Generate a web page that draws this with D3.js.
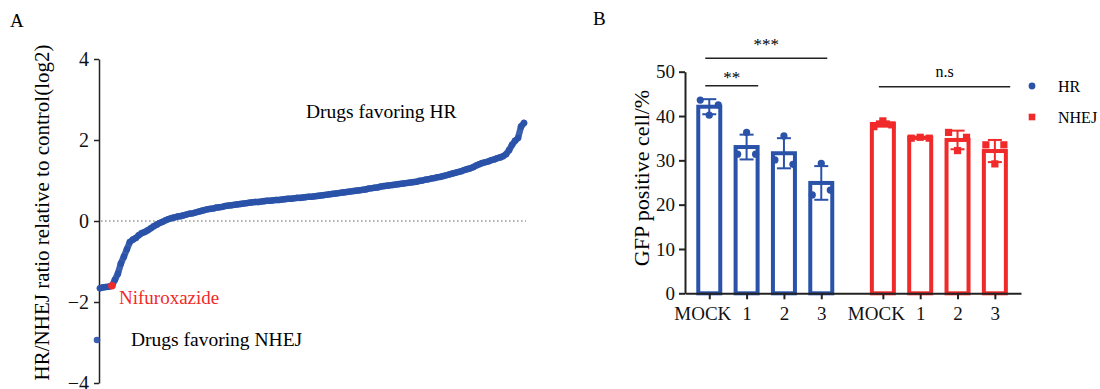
<!DOCTYPE html>
<html>
<head>
<meta charset="utf-8">
<script src="https://cdn.jsdelivr.net/npm/d3@7"></script>
<style>
  body { margin: 0; background: #fff; }
  svg { font-family: "Liberation Serif", "Times New Roman", serif; }
  .axis path, .axis line { stroke: #222; }
  .axis text { font-family: "Liberation Serif", serif; fill: #111; }
</style>
</head>
<body>
<svg id="chart" width="1100" height="389"></svg>
<script>
// ---- Panel A: sorted HR/NHEJ ratios (log2) ----
const ratioValues = [
  -2.94,
  -1.66, -1.64, -1.63, -1.62, -1.60, -1.45, -1.30, -1.05, -0.88, -0.70,
  -0.52, -0.46, -0.42, -0.35, -0.30, -0.27, -0.23, -0.18, -0.13, -0.09,
  -0.05, -0.02, 0.02, 0.05, 0.07, 0.09, 0.11, 0.12, 0.14, 0.16,
  0.18, 0.19, 0.21, 0.23, 0.25, 0.27, 0.29, 0.30, 0.31, 0.33,
  0.34, 0.35, 0.37, 0.38, 0.39, 0.40, 0.41, 0.42, 0.43, 0.44,
  0.45, 0.46, 0.47, 0.47, 0.48, 0.49, 0.50, 0.50, 0.51, 0.52,
  0.52, 0.53, 0.54, 0.55, 0.55, 0.56, 0.57, 0.57, 0.58, 0.59,
  0.60, 0.60, 0.61, 0.62, 0.63, 0.64, 0.65, 0.66, 0.67, 0.68,
  0.69, 0.70, 0.71, 0.72, 0.73, 0.74, 0.75, 0.76, 0.77, 0.78,
  0.80, 0.81, 0.82, 0.83, 0.85, 0.86, 0.87, 0.88, 0.89, 0.90,
  0.91, 0.92, 0.93, 0.94, 0.95, 0.96, 0.97, 0.99, 1.00, 1.02,
  1.03, 1.05, 1.06, 1.08, 1.09, 1.11, 1.13, 1.15, 1.17, 1.19,
  1.21, 1.23, 1.26, 1.28, 1.30, 1.33, 1.37, 1.40, 1.43, 1.45,
  1.47, 1.50, 1.52, 1.55, 1.57, 1.60, 1.65, 1.75, 1.88, 1.98,
  2.05, 2.33, 2.42
];
const highlightIndex = 5;          // Nifuroxazide
const ratioTicks = [-4, -2, 0, 2, 4];

// ---- Panel B: GFP positive cells (%) ----
const groupLabels = ["MOCK", "1", "2", "3", "MOCK", "1", "2", "3"];
const groupPositions = [0, 1, 2, 3, 4.65, 5.65, 6.65, 7.65];
const groupSeries = ["HR", "HR", "HR", "HR", "NHEJ", "NHEJ", "NHEJ", "NHEJ"];
const barMeans = [42.1, 33.0, 31.6, 24.9, 38.2, 35.1, 34.6, 32.1];
const barSD = [1.7, 2.8, 3.4, 3.8, 0.6, 0.2, 2.1, 2.5];
const replicates = [
  [43.6, 40.2, 42.5],
  [31.4, 36.3, 31.4],
  [30.1, 35.5, 29.1],
  [22.2, 29.3, 23.3],
  [37.6, 38.9, 38.0],
  [35.0, 35.2, 35.0],
  [36.3, 32.2, 35.2],
  [33.5, 29.2, 33.5]
];
const gfpTicks = [0, 10, 20, 30, 40, 50];
const legendItems = ["HR", "NHEJ"];

const blue = "#2a52a8";
const red = "#f02a2a";
const colorOf = s => s === "HR" ? blue : red;

const svg = d3.select("#chart");

// ================= Panel A =================
const gA = svg.append("g");

const xA = d3.scaleLinear().domain([0, ratioValues.length - 1]).range([97, 524]);
const yA = d3.scaleLinear().domain([-4, 4]).range([383, 59]);

gA.append("g")
  .attr("class", "axis")
  .attr("transform", "translate(99,0)")
  .call(d3.axisLeft(yA).tickValues(ratioTicks).tickSize(5).tickSizeOuter(0).tickFormat(d3.format("d")))
  .call(g => g.selectAll("path, line").attr("stroke-width", 1.5))
  .call(g => g.selectAll("text").attr("font-size", 20).attr("dx", -2));

// dotted zero line
gA.append("line")
  .attr("x1", 101).attr("x2", 526)
  .attr("y1", yA(0)).attr("y2", yA(0))
  .attr("stroke", "#9a9a9a")
  .attr("stroke-width", 1.6)
  .attr("stroke-dasharray", "1.6,2.4");

// thick trace joining the sorted drugs (outlier excluded) so steep parts stay solid
const trace = d3.line()
  .x(d => xA(d.i))
  .y(d => yA(d.v));
gA.append("path")
  .datum(ratioValues.map((v, i) => ({ v, i })).filter(d => d.i > 0))
  .attr("d", trace)
  .attr("fill", "none")
  .attr("stroke", blue)
  .attr("stroke-width", 6.4)
  .attr("stroke-linecap", "round")
  .attr("stroke-linejoin", "round")
  .attr("opacity", 0.92);

gA.selectAll(".drug")
  .data(ratioValues)
  .enter().append("circle")
  .attr("class", "drug")
  .attr("cx", (d, i) => xA(i))
  .attr("cy", d => yA(d))
  .attr("r", 3.3)
  .attr("fill", (d, i) => i === highlightIndex ? red : blue)
  .attr("opacity", 0.92);

// redraw highlighted point on top
gA.append("circle")
  .attr("cx", xA(highlightIndex))
  .attr("cy", yA(ratioValues[highlightIndex]))
  .attr("r", 3.8)
  .attr("fill", red);

gA.append("text")
  .attr("x", 10).attr("y", 27)
  .attr("font-size", 19)
  .text("A");

gA.append("text")
  .attr("transform", "translate(49," + ((42 + 383) / 2) + ") rotate(-90)")
  .attr("text-anchor", "middle")
  .attr("font-size", 21)
  .text("HR/NHEJ ratio relative to control(log2)");

gA.append("text")
  .attr("x", 306).attr("y", 118)
  .attr("font-size", 19.5)
  .text("Drugs favoring HR");

gA.append("text")
  .attr("x", 131).attr("y", 346)
  .attr("font-size", 19.5)
  .text("Drugs favoring NHEJ");

gA.append("text")
  .attr("x", 119).attr("y", 304)
  .attr("font-size", 19)
  .attr("fill", red)
  .text("Nifuroxazide");

// ================= Panel B =================
const gB = svg.append("g");

const xB = d3.scaleLinear().domain([-0.65, 8.35]).range([685, 1021]);
const yB = d3.scaleLinear().domain([0, 50]).range([293.3, 71.7]);
const barW = 22;

gB.append("g")
  .attr("class", "axis")
  .attr("transform", "translate(685,0)")
  .call(d3.axisLeft(yB).tickValues(gfpTicks).tickSize(6).tickSizeOuter(0))
  .call(g => g.selectAll("path, line").attr("stroke-width", 2))
  .call(g => g.selectAll("text").attr("font-size", 19).attr("dx", -1));

// bars (outlined)
gB.selectAll(".bar")
  .data(barMeans)
  .enter().append("rect")
  .attr("class", "bar")
  .attr("x", (d, i) => xB(groupPositions[i]) - barW / 2)
  .attr("y", d => yB(d))
  .attr("width", barW)
  .attr("height", d => yB(0) - yB(d))
  .attr("fill", "#fff")
  .attr("stroke", (d, i) => colorOf(groupSeries[i]))
  .attr("stroke-width", 4);

// error bars
barMeans.forEach((m, i) => {
  const cx = xB(groupPositions[i]);
  const col = colorOf(groupSeries[i]);
  const top = yB(m + barSD[i]), bot = yB(m - barSD[i]);
  gB.append("line").attr("x1", cx).attr("x2", cx).attr("y1", top).attr("y2", bot)
    .attr("stroke", col).attr("stroke-width", 2);
  [top, bot].forEach(y => {
    gB.append("line").attr("x1", cx - 7).attr("x2", cx + 7).attr("y1", y).attr("y2", y)
      .attr("stroke", col).attr("stroke-width", 2);
  });
});

// replicate points
const jitter = [-9, 0, 9];
replicates.forEach((reps, i) => {
  const cx = xB(groupPositions[i]);
  const col = colorOf(groupSeries[i]);
  reps.forEach((v, k) => {
    if (groupSeries[i] === "HR") {
      gB.append("circle").attr("cx", cx + jitter[k]).attr("cy", yB(v)).attr("r", 3.6).attr("fill", col);
    } else {
      gB.append("rect").attr("x", cx + jitter[k] - 3.6).attr("y", yB(v) - 3.6)
        .attr("width", 7.2).attr("height", 7.2).attr("fill", col);
    }
  });
});

// x axis drawn after bars so it sits on top
gB.append("g")
  .attr("class", "axis")
  .attr("transform", "translate(0," + yB(0) + ")")
  .call(d3.axisBottom(xB).tickValues(groupPositions).tickSize(6).tickSizeOuter(0)
    .tickFormat((d, i) => groupLabels[i]))
  .call(g => g.selectAll("path, line").attr("stroke-width", 2))
  .call(g => g.selectAll("text").attr("font-size", 19).attr("dy", "0.95em")
    .attr("dx", (d, i) => groupLabels[i] === "MOCK" ? -7 : 0));

// significance brackets
const sigs = [
  { from: 0, to: 3, level: 58.3, label: "***", ty: 50 },
  { from: 0, to: 1.15, level: 85.7, label: "**", ty: 83 },
  { from: 4.65, to: 7.9, level: 86.7, label: "n.s", ty: 77 }
];
sigs.forEach(s => {
  const x1 = xB(s.from) - 4, x2 = xB(s.to) + 6;
  gB.append("line").attr("x1", x1).attr("x2", x2).attr("y1", s.level).attr("y2", s.level)
    .attr("stroke", "#222").attr("stroke-width", 1.6);
  gB.append("text").attr("x", (x1 + x2) / 2).attr("y", s.ty)
    .attr("text-anchor", "middle").attr("font-size", s.label === "n.s" ? 16 : 17)
    .text(s.label);
});

gB.append("text")
  .attr("transform", "translate(649," + 178 + ") rotate(-90)")
  .attr("text-anchor", "middle")
  .attr("font-size", 22)
  .text("GFP positive cell/%");

gB.append("text")
  .attr("x", 593).attr("y", 25)
  .attr("font-size", 19)
  .text("B");

// legend
legendItems.forEach((s, i) => {
  const y = 86 + i * 31;
  if (s === "HR") {
    gB.append("circle").attr("cx", 1032).attr("cy", y).attr("r", 3.4).attr("fill", blue);
  } else {
    gB.append("rect").attr("x", 1028.7).attr("y", y - 3.3).attr("width", 6.6).attr("height", 6.6).attr("fill", red);
  }
  gB.append("text").attr("x", 1058).attr("y", y + 6).attr("font-size", 16).text(s);
});
</script>
</body>
</html>
